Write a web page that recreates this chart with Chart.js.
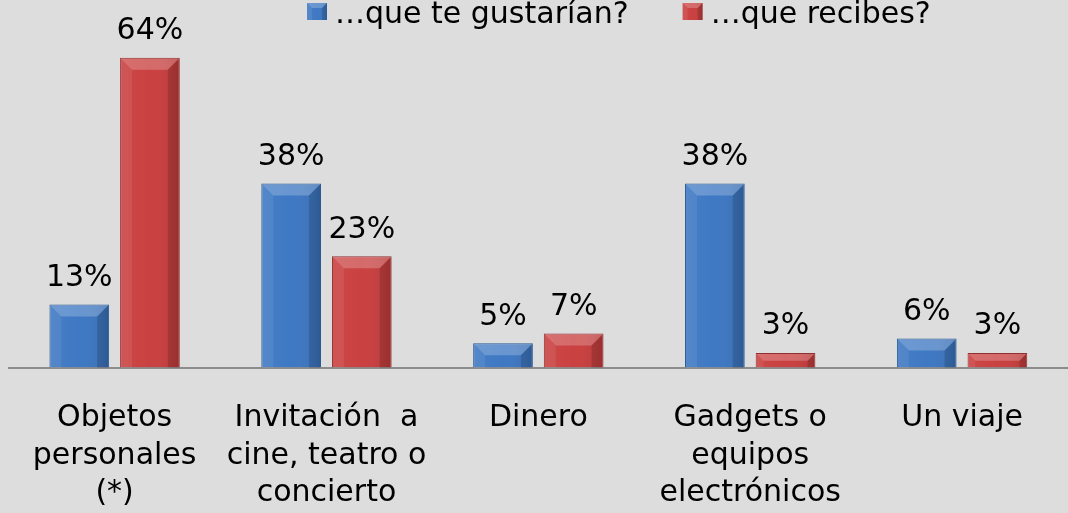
<!DOCTYPE html>
<html><head><meta charset="utf-8">
<script src="https://cdn.jsdelivr.net/npm/chart.js@4.4.1/dist/chart.umd.min.js"></script>
<style>html,body{margin:0;padding:0;background:#dddddd;overflow:hidden}</style>
</head><body>
<canvas id="c" width="1068" height="513"></canvas>
<script>
const categories = [["Objetos","personales","(*)"],["Invitación  a","cine, teatro o","concierto"],["Dinero"],["Gadgets o","equipos","electrónicos"],["Un viaje"]];
const seriesNames = ["…que te gustarían?","…que recibes?"];
const gustarian = [13, 38, 5, 38, 6];
const recibes = [64, 23, 7, 3, 3];
const seriesColors = ["#3b76c2", "#c93d3d"];
const seriesBorders = ["#2c5a94", "#923030"];
const FONT = "'DejaVu Sans', Verdana, sans-serif";

const bgPlugin = {
  id: 'bg',
  beforeDraw(chart) {
    const c = chart.ctx;
    c.save(); c.fillStyle = '#dddddd'; c.fillRect(0, 0, chart.width, chart.height); c.restore();
  }
};

function bevel(c, l, t, r, b, bsz) {
  const h = b - t, w = r - l;
  const s = Math.min(bsz, h / 2, w / 2);
  const g = c.createLinearGradient(l, 0, r, 0);
  g.addColorStop(0, 'rgba(255,255,255,0.06)');
  g.addColorStop(0.5, 'rgba(255,255,255,0.02)');
  g.addColorStop(1, 'rgba(0,0,0,0.10)');
  c.fillStyle = g; c.fillRect(l, t, w, h);
  c.fillStyle = 'rgba(255,255,255,0.22)';
  c.beginPath(); c.moveTo(l, t); c.lineTo(r, t); c.lineTo(r - s, t + s); c.lineTo(l + s, t + s); c.closePath(); c.fill();
  c.fillStyle = 'rgba(255,255,255,0.07)';
  c.beginPath(); c.moveTo(l, t); c.lineTo(l + s, t + s); c.lineTo(l + s, b); c.lineTo(l, b); c.closePath(); c.fill();
  c.fillStyle = 'rgba(0,0,0,0.14)';
  c.beginPath(); c.moveTo(r, t); c.lineTo(r - s, t + s); c.lineTo(r - s, b); c.lineTo(r, b); c.closePath(); c.fill();
}

const barFx = {
  id: 'barFx',
  afterDatasetsDraw(chart) {
    const c = chart.ctx;
    c.save();
    chart.data.datasets.forEach((ds, i) => {
      const meta = chart.getDatasetMeta(i);
      meta.data.forEach((bar, j) => {
        const l = bar.x - bar.width / 2, r = bar.x + bar.width / 2;
        bevel(c, l + 1, bar.y + 1, r - 1, bar.base, 11);
        c.fillStyle = '#000';
        c.font = '30px ' + FONT;
        c.textAlign = 'center';
        c.textBaseline = 'alphabetic';
        c.fillText(ds.data[j] + '%', bar.x, bar.y - 18.5);
      });
    });
    c.restore();
  }
};

const legendPlugin = {
  id: 'customLegend',
  afterDraw(chart) {
    const c = chart.ctx;
    c.save();
    c.font = '30px ' + FONT;
    c.textBaseline = 'alphabetic';
    c.textAlign = 'left';
    let x = 307;
    chart.data.datasets.forEach((ds, i) => {
      c.fillStyle = seriesColors[i];
      c.fillRect(x, 3, 20, 17);
      bevel(c, x, 3, x + 20, 20, 5);
      c.fillStyle = '#000';
      c.fillText(ds.label, x + 28, 23);
      x += 28 + c.measureText(ds.label).width + 54;
    });
    c.restore();
  }
};

new Chart(document.getElementById('c'), {
  type: 'bar',
  data: {
    labels: categories,
    datasets: [
      { label: seriesNames[0], data: gustarian, backgroundColor: seriesColors[0], borderColor: seriesBorders[0], borderWidth: 1 },
      { label: seriesNames[1], data: recibes, backgroundColor: seriesColors[1], borderColor: seriesBorders[1], borderWidth: 1 }
    ]
  },
  options: {
    responsive: false,
    animation: false,
    devicePixelRatio: 1,
    categoryPercentage: 0.667,
    barPercentage: 0.845,
    layout: { padding: { left: 8, right: -5, top: 36, bottom: -31 } },
    plugins: { legend: { display: false }, tooltip: { enabled: false } },
    scales: {
      x: {
        grid: { display: false, drawTicks: false },
        border: { display: true, color: '#8c8c8c', width: 2 },
        ticks: { color: '#000', font: { family: FONT, size: 30, lineHeight: 1.25 }, padding: 32, maxRotation: 0, autoSkip: false }
      },
      y: { display: false, min: 0, max: 68.5 }
    }
  },
  plugins: [bgPlugin, barFx, legendPlugin]
});
</script>
</body></html>
